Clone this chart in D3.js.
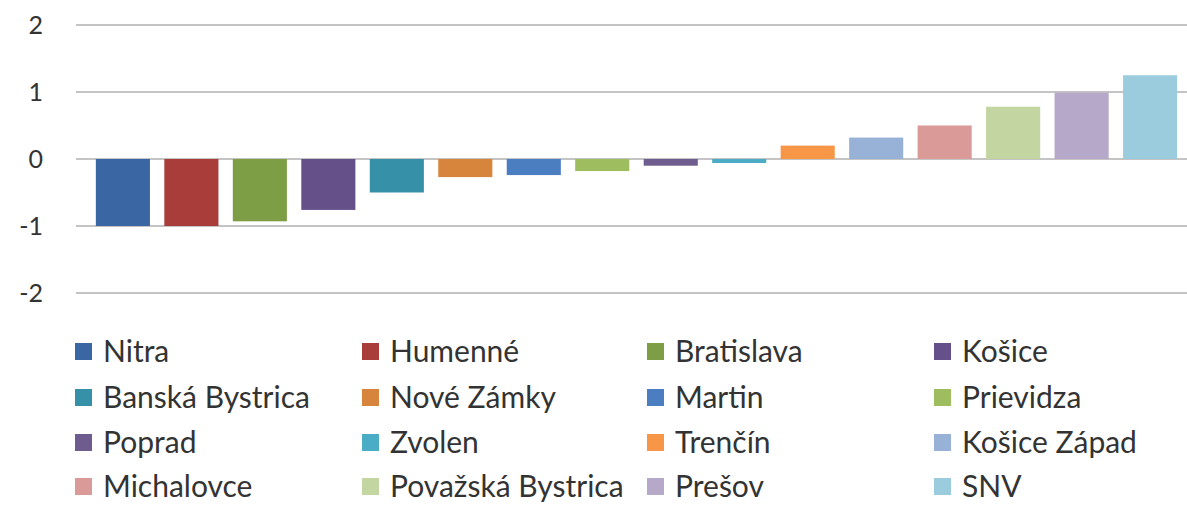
<!DOCTYPE html>
<html><head><meta charset="utf-8">
<script src="https://cdn.jsdelivr.net/npm/d3@7"></script>
<style>body{margin:0;background:#fff}svg{display:block}text{font-family:Lato,"Open Sans",sans-serif;fill:#333}</style>
</head><body><svg id="c" width="1187" height="508"></svg>
<script>
const categories = ["Nitra","Humenné","Bratislava","Košice","Banská Bystrica","Nové Zámky","Martin","Prievidza","Poprad","Zvolen","Trenčín","Košice Západ","Michalovce","Považská Bystrica","Prešov","SNV"];
const values = [-1.0,-1.0,-0.93,-0.76,-0.50,-0.27,-0.24,-0.18,-0.10,-0.06,0.20,0.32,0.50,0.78,0.99,1.25];
const colors = ["#3A67A3","#A83D3A","#7E9E45","#66508A","#3690A8","#D7843D","#4A7EC0","#9DBD5E","#6E5C8E","#4BACC6","#F79646","#98B1D6","#D99A98","#C3D5A0","#B6A8C9","#9BCCDD"];
const yTicks = [-2,-1,0,1,2];

const svg = d3.select("#c");
const y = d3.scaleLinear().domain([-2,2]).range([293,25]);
const x = d3.scaleBand().domain(categories).range([89,1184]).paddingInner(0.21).paddingOuter(0.1);

// gridlines
svg.append("g").selectAll("line").data(yTicks).join("line")
  .attr("x1",76).attr("x2",1187)
  .attr("y1",d=>y(d)).attr("y2",d=>y(d))
  .attr("stroke","#c4c4c4").attr("stroke-width",2);

// axis labels
const ax = svg.append("g").attr("transform","translate(43,0)")
  .call(d3.axisLeft(y).tickValues(yTicks).tickSize(0).tickPadding(0).tickFormat(d=>String(d)));
ax.select(".domain").remove();
ax.selectAll("text").style("font-size","25px").style("font-family","Lato,sans-serif").attr("fill","#333").attr("dy","0.35em");

// bars
svg.append("g").selectAll("rect").data(categories).join("rect")
  .attr("x",d=>x(d)).attr("width",x.bandwidth())
  .attr("y",(d,i)=>y(Math.max(0,values[i])))
  .attr("height",(d,i)=>Math.abs(y(values[i])-y(0)))
  .attr("fill",(d,i)=>colors[i]);

// legend
const colX = [75,362,647,934];
const rowY = [352,398,443,487];
const lg = svg.append("g").selectAll("g").data(categories).join("g")
  .attr("transform",(d,i)=>`translate(${colX[i%4]},${rowY[Math.floor(i/4)]})`);
lg.append("rect").attr("x",0).attr("y",-9).attr("width",17).attr("height",17).attr("fill",(d,i)=>colors[i]);
lg.append("text").attr("x",28).attr("y",0).attr("dy","0.34em").style("font-size","30px").text(d=>d);
</script></body></html>
